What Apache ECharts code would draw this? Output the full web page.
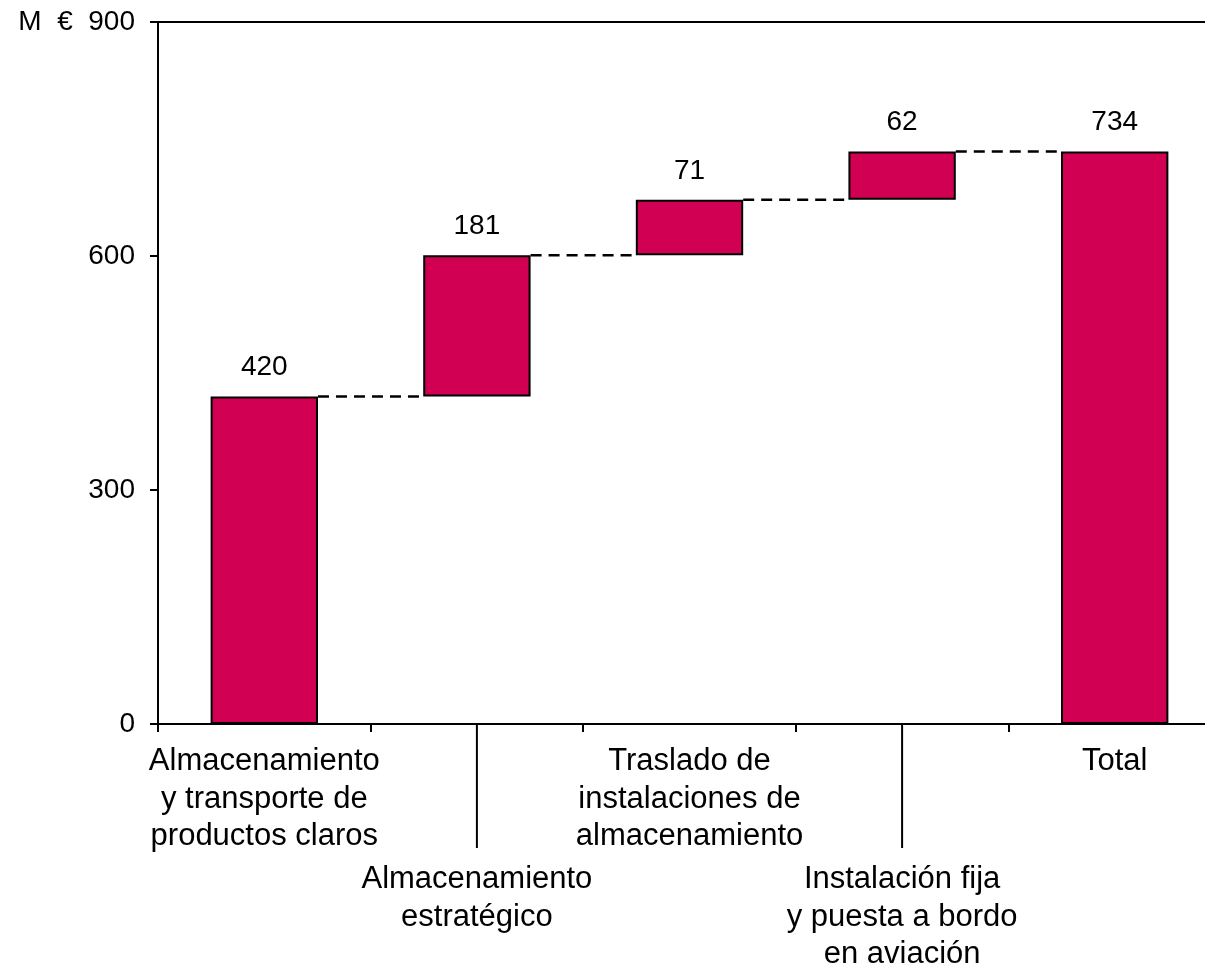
<!DOCTYPE html>
<html>
<head>
<meta charset="utf-8">
<script src="https://cdn.jsdelivr.net/npm/echarts@6/dist/echarts.min.js"></script>
<style>
html,body{margin:0;padding:0;background:#fff;}
#chart{width:1205px;height:966px;}
</style>
</head>
<body>
<div id="chart"></div>
<script>
const categories = [
  'Almacenamiento\ny transporte de\nproductos claros',
  'Almacenamiento\nestratégico',
  'Traslado de\ninstalaciones de\nalmacenamiento',
  'Instalación fija\ny puesta a bordo\nen aviación',
  'Total'
];
const steps = [420, 181, 71, 62];
const total = [734];
const yTicks = [0, 300, 600, 900];
const unitLabel = 'M  €';

// derived waterfall structure
const values = steps.concat(total);
const base = [];
let acc = 0;
steps.forEach(v => { base.push(acc); acc += v; });
base.push(0);
const levels = [];
acc = 0;
steps.forEach(v => { acc += v; levels.push(acc); });
const connectors = levels.map((lv, i) => [i, lv]);
const lowered = [1, 3];

const FONT = '"Liberation Sans", Arial, sans-serif';
const BAR_RATIO = 0.505;

const chart = echarts.init(document.getElementById('chart'), null, {renderer: 'canvas'});
chart.setOption({
  animation: false,
  backgroundColor: '#fff',
  textStyle: {fontFamily: FONT},
  grid: {
    left: 158, width: 1063, top: 22, bottom: 242,
    outerBoundsMode: 'none', containLabel: false,
    show: true, borderColor: '#000', borderWidth: 2, backgroundColor: 'transparent'
  },
  xAxis: {
    type: 'category',
    data: categories,
    axisLine: {lineStyle: {color: '#000', width: 2}},
    axisTick: {show: true, length: 8, lineStyle: {color: '#000', width: 2}},
    axisLabel: {
      interval: 0,
      margin: 19,
      color: '#000',
      fontFamily: FONT,
      fontSize: 31,
      lineHeight: 37.5,
      formatter: function (v, i) {
        if (lowered.indexOf(i) >= 0) return '{g| }\n{t|' + v + '}';
        return '{t|' + v + '}';
      },
      rich: {
        t: {fontSize: 31, lineHeight: 37.5, fontFamily: FONT, color: '#000', align: 'center'},
        g: {fontSize: 10, lineHeight: 118, fontFamily: FONT}
      }
    }
  },
  yAxis: {
    type: 'value',
    min: yTicks[0],
    max: yTicks[yTicks.length - 1],
    interval: yTicks[1] - yTicks[0],
    splitLine: {show: false},
    axisLine: {show: true, lineStyle: {color: '#000', width: 2}},
    axisTick: {show: true, length: 8, lineStyle: {color: '#000', width: 2}},
    axisLabel: {
      margin: 23,
      color: '#000',
      fontFamily: FONT,
      fontSize: 28,
      formatter: function (v) {
        return v === yTicks[yTicks.length - 1] ? unitLabel + '  ' + v : String(v);
      }
    }
  },
  series: [
    {
      type: 'bar',
      stack: 'w',
      data: base,
      barWidth: (BAR_RATIO * 100) + '%',
      itemStyle: {color: 'transparent', borderWidth: 0},
      silent: true
    },
    {
      type: 'bar',
      stack: 'w',
      data: values,
      barWidth: (BAR_RATIO * 100) + '%',
      itemStyle: {color: '#D10052', borderColor: '#000', borderWidth: 2},
      label: {
        show: true,
        position: 'top',
        distance: 15,
        color: '#000',
        fontFamily: FONT,
        fontSize: 28
      }
    },
    {
      type: 'custom',
      data: connectors,
      z: 5,
      renderItem: function (params, api) {
        const i = api.value(0), lv = api.value(1);
        const p0 = api.coord([i, lv]);
        const p1 = api.coord([i + 1, lv]);
        const w = api.size([1, 0])[0] * BAR_RATIO;
        return {
          type: 'line',
          shape: {x1: p0[0] + w / 2, y1: p0[1], x2: p1[0] - w / 2, y2: p1[1]},
          style: {stroke: '#000', lineWidth: 2.5, lineDash: [11, 7]}
        };
      }
    },
    {
      type: 'custom',
      data: lowered.map(i => [i, 0]),
      clip: false,
      z: 5,
      renderItem: function (params, api) {
        const p = api.coord([api.value(0), 0]);
        return {
          type: 'line',
          shape: {x1: p[0], y1: p[1], x2: p[0], y2: p[1] + 124},
          style: {stroke: '#000', lineWidth: 2}
        };
      }
    }
  ]
});
</script>
</body>
</html>
